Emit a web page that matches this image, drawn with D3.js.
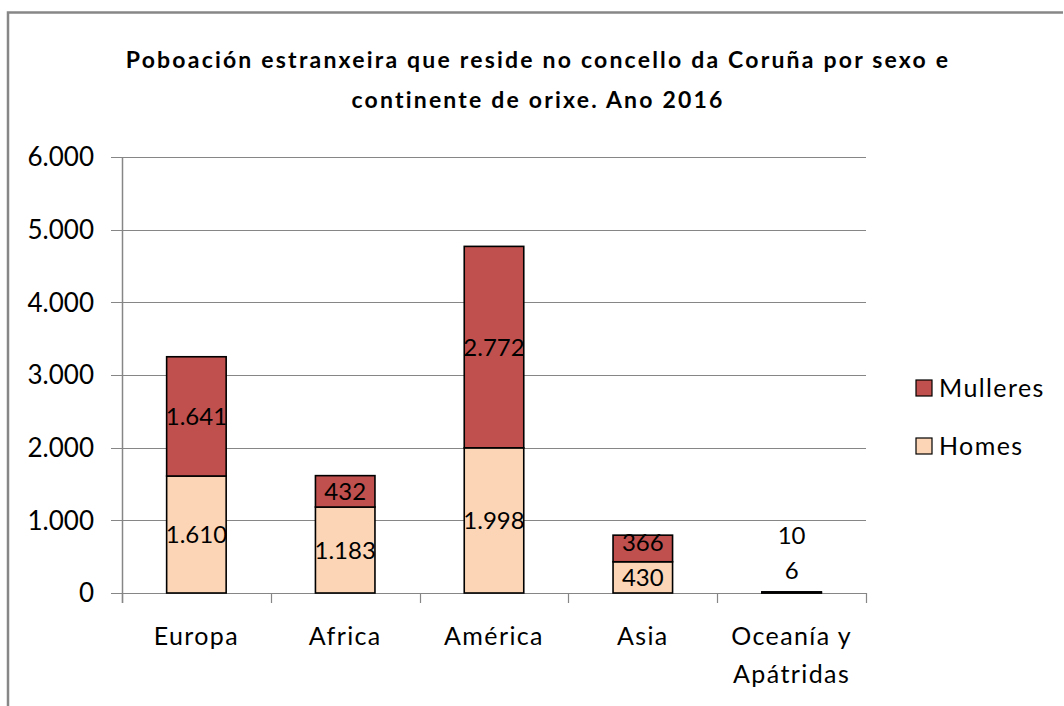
<!DOCTYPE html>
<html>
<head>
<meta charset="utf-8">
<script src="https://cdn.jsdelivr.net/npm/d3@7.9.0/dist/d3.min.js"></script>
<style>
  body { margin: 0; background: #fff; }
  svg { display: block; font-family: Lato, "Open Sans", sans-serif; }
</style>
</head>
<body>
<svg></svg>
<script>
const categories = ["Europa", "Africa", "América", "Asia", "Oceanía y\nApátridas"];
const homes = [1610, 1183, 1998, 430, 6];
const mulleres = [1641, 432, 2772, 366, 10];
const seriesNames = ["Homes", "Mulleres"];
const yTicks = [0, 1000, 2000, 3000, 4000, 5000, 6000];
const titleLines = [
  "Poboación estranxeira que reside no concello da Coruña por sexo e",
  "continente de orixe. Ano 2016"
];

const width = 1064, height = 706;
const margin = { top: 157, right: 198, bottom: 113, left: 122 };
const colors = { Homes: "#FBD5B5", Mulleres: "#C0504D" };
const gridColor = "#868686";

const svg = d3.select("svg").attr("width", width).attr("height", height);

// chart frame (only top and left edges are in view)
svg.append("path")
  .attr("d", `M8,${height} V12.5 H${width - 1}`)
  .attr("fill", "none")
  .attr("stroke", "#878787")
  .attr("stroke-width", 2.5);

svg.append("g").selectAll("text")
  .data(titleLines)
  .join("text")
  .attr("x", 538)
  .attr("y", (d, i) => 68 + i * 40)
  .attr("text-anchor", "middle")
  .attr("font-size", 23)
  .attr("font-weight", "bold")
  .attr("letter-spacing", 2.2)
  .attr("fill", "#000")
  .text(d => d);

const data = categories.map((c, i) => ({ cat: c, Homes: homes[i], Mulleres: mulleres[i] }));
const stacked = d3.stack().keys(seriesNames)(data);

const x = d3.scaleBand()
  .domain(categories)
  .range([margin.left, width - margin.right])
  .paddingInner(0.6)
  .paddingOuter(0.3);

const y = d3.scaleLinear()
  .domain([0, 6000])
  .range([height - margin.bottom, margin.top]);

const x0 = margin.left, x1 = width - margin.right, yBase = y(0);
const fmt = v => d3.format(",")(v).replace(/,/g, ".");

// gridlines with outside ticks
svg.append("g").selectAll("line")
  .data(yTicks)
  .join("line")
  .attr("x1", x0 - 11).attr("x2", x1)
  .attr("y1", d => Math.round(y(d)) + 0.5).attr("y2", d => Math.round(y(d)) + 0.5)
  .attr("stroke", gridColor)
  .attr("stroke-width", 1.2);

svg.append("g").selectAll("text")
  .data(yTicks)
  .join("text")
  .attr("x", 94)
  .attr("y", d => y(d))
  .attr("dy", "0.36em")
  .attr("text-anchor", "end")
  .attr("font-size", 26)
  .attr("fill", "#000")
  .text(fmt);

// y axis line
svg.append("line")
  .attr("x1", x0 + 0.5).attr("x2", x0 + 0.5)
  .attr("y1", y(6000)).attr("y2", yBase + 10)
  .attr("stroke", gridColor).attr("stroke-width", 1.5);

// category ticks
const step = x.step();
svg.append("g").selectAll("line")
  .data(d3.range(categories.length + 1))
  .join("line")
  .attr("x1", i => Math.round(x0 + i * step) + 0.5)
  .attr("x2", i => Math.round(x0 + i * step) + 0.5)
  .attr("y1", yBase).attr("y2", yBase + 10)
  .attr("stroke", gridColor).attr("stroke-width", 1.2);

// bars
const groups = svg.append("g").selectAll("g")
  .data(stacked)
  .join("g")
  .attr("fill", d => colors[d.key]);

groups.selectAll("rect")
  .data(d => d)
  .join("rect")
  .attr("x", d => x(d.data.cat))
  .attr("width", x.bandwidth())
  .attr("y", d => y(d[1]))
  .attr("height", d => Math.max(0.5, y(d[0]) - y(d[1])))
  .attr("stroke", "#000")
  .attr("stroke-width", 1.6);

// data labels, pushed upward when segments are too thin
const labels = [];
categories.forEach((c, i) => {
  let prev = null;
  stacked.forEach(s => {
    const seg = s[i];
    const top = y(seg[1]), bot = y(seg[0]);
    let cy = (top + bot) / 2;
    if (bot - top < 20) cy = Math.min(cy, bot - 23);
    if (prev !== null) cy = Math.min(cy, prev - 35);
    prev = cy;
    labels.push({ cat: c, cy, v: seg.data[s.key] });
  });
});

svg.append("g").selectAll("text")
  .data(labels)
  .join("text")
  .attr("x", d => x(d.cat) + x.bandwidth() / 2)
  .attr("y", d => d.cy)
  .attr("dy", "0.36em")
  .attr("text-anchor", "middle")
  .attr("font-size", 24)
  .attr("fill", "#000")
  .text(d => fmt(d.v));

// category labels
svg.append("g").selectAll("text")
  .data(categories)
  .join("text")
  .attr("x", d => x(d) + x.bandwidth() / 2)
  .attr("y", 645)
  .attr("text-anchor", "middle")
  .attr("font-size", 25)
  .attr("letter-spacing", 1.4)
  .attr("fill", "#000")
  .selectAll("tspan")
  .data(d => d.split("\n"))
  .join("tspan")
  .attr("x", function () { return d3.select(this.parentNode).attr("x"); })
  .attr("dy", (d, i) => i === 0 ? 0 : 38)
  .text(d => d);

// legend (Mulleres on top)
const legend = svg.append("g").selectAll("g")
  .data(seriesNames.slice().reverse())
  .join("g")
  .attr("transform", (d, i) => `translate(916,${380 + i * 58})`);

legend.append("rect")
  .attr("width", 16).attr("height", 16)
  .attr("fill", d => colors[d])
  .attr("stroke", "#000").attr("stroke-width", 1.2);

legend.append("text")
  .attr("x", 23).attr("y", 8)
  .attr("dy", "0.36em")
  .attr("font-size", 25)
  .attr("letter-spacing", 1.4)
  .attr("fill", "#000")
  .text(d => d);
</script>
</body>
</html>
